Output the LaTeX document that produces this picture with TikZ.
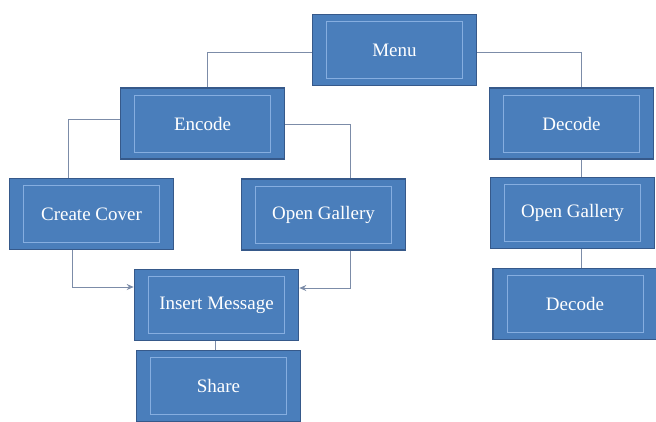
\documentclass[tikz,border=0pt]{standalone}
\usepackage{fontspec}
\setmainfont{Liberation Serif}
\usetikzlibrary{arrows.meta,calc}
\definecolor{boxfill}{HTML}{4A7EBB}
\definecolor{boxedge}{HTML}{36598A}
\definecolor{innerline}{HTML}{86AEE0}
\definecolor{wire}{HTML}{7C8CA8}
\tikzset{
  blk/.style={rectangle, fill=boxfill, draw=boxedge, line width=1.6pt,
    minimum width=164pt, minimum height=71pt, inner sep=0pt,
    text=white, font=\fontsize{19}{21}\selectfont,
    path picture={\draw[innerline, line width=0.7pt]
      ($(path picture bounding box.south west)+(14pt,7pt)$) rectangle
      ($(path picture bounding box.north east)+(-14pt,-7pt)$);}},
  wireline/.style={draw=wire, line width=0.9pt},
  wirearrow/.style={wireline, -{Stealth[length=7pt,width=6pt]}}
}
\begin{document}
\begin{tikzpicture}[x=1pt,y=-1pt]
  \useasboundingbox (0,0) rectangle (656,421);
  \fill[white] (0,0) rectangle (656,421);

  \node[blk] (menu)   at (394.5,50)  {Menu};
  \node[blk] (enc)    at (202.5,123.5) {Encode};
  \node[blk] (dec)    at (571.5,123.5) {Decode};
  \node[blk] (cover)  at (91.5,214)  {Create Cover};
  \node[blk] (galA)   at (323.5,214.5) {Open Gallery};
  \node[blk] (galB)   at (572.5,213) {Open Gallery};
  \node[blk] (insert) at (216.5,305) {Insert Message};
  \node[blk] (share)  at (218.5,386) {Share};
  \node[blk] (decB)   at (575,304)   {Decode};

  % menu branches
  \draw[wireline] ([yshift=-2pt]menu.west) -| ([xshift=4.5pt]enc.north);
  \draw[wireline] ([yshift=-2pt]menu.east) -| ([xshift=9.5pt]dec.north);

  % encode branches
  \draw[wireline] ([yshift=4pt]enc.west) -| ([xshift=-23.5pt]cover.north);
  \draw[wireline] ([yshift=-1pt]enc.east) -| ([xshift=27pt]galA.north);

  % both paths lead into the message step
  \draw[wirearrow] ([xshift=-19pt]cover.south) |- ([yshift=18pt]insert.west);
  \draw[wirearrow] ([xshift=27pt]galA.south) |- ([yshift=17pt]insert.east);
  \coordinate (insX) at ([xshift=-1.5pt]insert.south);
  \draw[wireline] (insX) -- (insX |- share.north);

  % decode chain, one straight vertical run
  \coordinate (decX) at ([xshift=9.5pt]dec.south);
  \draw[wireline] (decX) -- (decX |- galB.north);
  \draw[wireline] (decX |- galB.south) -- (decX |- decB.north);
\end{tikzpicture}
\end{document}
